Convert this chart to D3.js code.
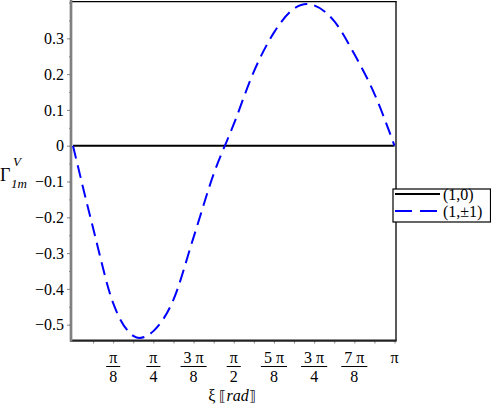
<!DOCTYPE html>
<html><head><meta charset="utf-8">
<script src="https://cdn.jsdelivr.net/npm/d3@7"></script>
<style>body{margin:0;background:#fff}svg{display:block}text{font-family:"Liberation Serif","Times New Roman",serif;}</style>
</head><body>
<script>
// ---- data ----
const xiPi = [0, 0.0625, 0.125, 0.1875, 0.207, 0.25, 0.3125, 0.375, 0.4375, 0.5, 0.5625, 0.625, 0.6875, 0.727, 0.75, 0.8125, 0.875, 0.9375, 1];
const gammaPM1 = [0, -0.230, -0.440, -0.531, -0.537, -0.518, -0.430, -0.256, -0.079, 0.060, 0.207, 0.316, 0.383, 0.396, 0.392, 0.348, 0.256, 0.145, 0];
const gamma0 = xiPi.map(() => 0);
const seriesNames = ["(1,0)", "(1,\u00b11)"];
const seriesColors = ["#000000", "#0000ff"];
const yTicks = [-0.5, -0.4, -0.3, -0.2, -0.1, 0, 0.1, 0.2, 0.3];
const yMinorTicks = [-0.5, -0.45, -0.4, -0.35, -0.3, -0.25, -0.2, -0.15, -0.1, -0.05, 0, 0.05, 0.1, 0.15, 0.2, 0.25, 0.3, 0.35, 0.4];
const xTicksPi = [0.125, 0.25, 0.375, 0.5, 0.625, 0.75, 0.875, 1];
const xMinorTicksPi = [0.0625, 0.125, 0.1875, 0.25, 0.3125, 0.375, 0.4375, 0.5, 0.5625, 0.625, 0.6875, 0.75, 0.8125, 0.875, 0.9375, 1];
const xTickNum = ["\u03c0", "\u03c0", "3 \u03c0", "\u03c0", "5 \u03c0", "3 \u03c0", "7 \u03c0", "\u03c0"];
const xTickDen = ["8", "4", "8", "2", "8", "4", "8", ""];

const W = 491, H = 406;
const svg = d3.select("body").append("svg").attr("width", W).attr("height", H);
const x = d3.scaleLinear().domain([0, Math.PI]).range([73, 394.5]);
const y = d3.scaleLinear().domain([-0.5447, 0.404]).range([340.7, 1.1]);

// frame
svg.append("line").attr("x1", 71).attr("x2", 396.5).attr("y1", 1.6).attr("y2", 1.6).attr("stroke", "#000").attr("stroke-width", 1.3);
svg.append("line").attr("x1", 396).attr("x2", 396).attr("y1", 1).attr("y2", 340.7).attr("stroke", "#000").attr("stroke-width", 1.3);

// y axis
const yMinor = svg.append("g").attr("transform", "translate(71,0)")
  .call(d3.axisLeft(y).tickValues(yMinorTicks).tickSize(2).tickSizeOuter(0).tickFormat(""));
yMinor.select(".domain").remove();
yMinor.selectAll("line").attr("stroke", "#888");
const yAx = svg.append("g").attr("transform", "translate(71,0)")
  .call(d3.axisLeft(y).tickValues(yTicks).tickSize(4).tickSizeOuter(0).tickPadding(3)
    .tickFormat(d => d === 0 ? "0" : d3.format(".1f")(d)));
yAx.select(".domain").remove();
yAx.selectAll("line").attr("stroke", "#888");
yAx.selectAll("text").attr("font-size", 16).attr("fill", "#000");

// x axis ticks
const xMinor = svg.append("g").attr("transform", "translate(0,340.5)")
  .call(d3.axisBottom(x).tickValues(xMinorTicksPi.map(v => v * Math.PI)).tickSize(3).tickSizeOuter(0).tickFormat(""));
xMinor.select(".domain").remove();
xMinor.selectAll("line").attr("stroke", "#888");

// x tick labels as fractions
xTicksPi.forEach((v, i) => {
  const cx = x(v * Math.PI);
  const g = svg.append("g");
  const num = g.append("text").attr("x", cx).attr("y", 363).attr("text-anchor", "middle")
    .attr("font-size", 16).text(xTickNum[i]);
  if (xTickDen[i]) {
    const w = num.node().getComputedTextLength();
    g.append("line").attr("x1", cx - w / 2 - 3).attr("x2", cx + w / 2 + 3).attr("y1", 366.5).attr("y2", 366.5)
      .attr("stroke", "#000").attr("stroke-width", 1);
    g.append("text").attr("x", cx).attr("y", 382).attr("text-anchor", "middle").attr("font-size", 16).text(xTickDen[i]);
  }
});

// axis lines
svg.append("line").attr("x1", 70).attr("x2", 396.6).attr("y1", 340.6).attr("y2", 340.6).attr("stroke", "#222").attr("stroke-width", 2.3);
svg.append("line").attr("x1", 71).attr("x2", 71).attr("y1", 0).attr("y2", 341.5).attr("stroke", "#808080").attr("stroke-width", 2.7);

// series
const line = d3.line().x((d, i) => x(xiPi[i] * Math.PI)).y(d => y(d)).curve(d3.curveMonotoneX);
svg.append("path").datum(gamma0).attr("d", line).attr("fill", "none").attr("stroke", seriesColors[0]).attr("stroke-width", 2);
svg.append("path").datum(gammaPM1).attr("d", line).attr("fill", "none").attr("stroke", seriesColors[1])
  .attr("stroke-width", 2).attr("stroke-dasharray", "13,7");

// axis titles
const xt = svg.append("text").attr("x", 232).attr("y", 401).attr("text-anchor", "middle").attr("font-size", 16);
xt.append("tspan").text("\u03be ");
xt.append("tspan").attr("font-family", "DejaVu Serif").attr("font-size", 14).text("\u27e6");
xt.append("tspan").attr("font-style", "italic").text("rad");
xt.append("tspan").attr("font-family", "DejaVu Serif").attr("font-size", 14).text("\u27e7");

const yt = svg.append("g");
yt.append("text").attr("x", 0).attr("y", 181).attr("font-size", 18).text("\u0393");
yt.append("text").attr("x", 13).attr("y", 166).attr("font-size", 13).attr("font-style", "italic").text("V");
yt.append("text").attr("x", 11).attr("y", 188).attr("font-size", 13).attr("font-style", "italic").text("1m");

// legend
const lg = svg.append("g");
lg.append("rect").attr("x", 393).attr("y", 189).attr("width", 97.5).attr("height", 33).attr("fill", "#fff").attr("stroke", "#000").attr("stroke-width", 1.2);
seriesNames.forEach((n, i) => {
  const ly = 194 + i * 17;
  lg.append("line").attr("x1", 395).attr("x2", 440).attr("y1", ly).attr("y2", ly)
    .attr("stroke", seriesColors[i]).attr("stroke-width", 2).attr("stroke-dasharray", i ? "17,8" : null);
  lg.append("text").attr("x", 443).attr("y", ly + 5.5).attr("font-size", 16).text(n);
});
</script>
</body></html>
